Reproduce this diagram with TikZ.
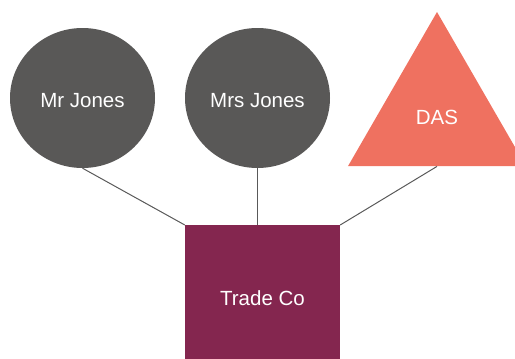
\documentclass[tikz,border=0pt]{standalone}
\usepackage{fontspec}
\setmainfont{Liberation Sans}
\usetikzlibrary{shapes.geometric}
\definecolor{person}{HTML}{595857}
\definecolor{dasred}{HTML}{EF7160}
\definecolor{tradeco}{HTML}{84264F}
\definecolor{linkgray}{HTML}{595959}
\tikzset{
  lbl/.style={text=white, font=\fontsize{20.5}{24}\selectfont},
  low/.style={text height=19pt, text depth=0pt},
  person/.style={ellipse, fill=person, minimum width=145pt, minimum height=140pt, inner sep=0pt, lbl, low},
  link/.style={draw=linkgray, line width=1pt}
}
\begin{document}
\begin{tikzpicture}[x=1pt,y=-1pt]
\useasboundingbox (0,0) rectangle (515,359);
\clip (0,0) rectangle (515,359);
\node[person] (mr) at (82.5,98) {Mr Jones};
\node[person] (mrs) at (257.5,98) {Mrs Jones};
\node[regular polygon, regular polygon sides=3, fill=dasred, minimum size=205.6pt, inner sep=0pt, lbl, low] (das) at (437,114.8) {DAS};
\node[rectangle, fill=tradeco, minimum width=155pt, minimum height=146pt, inner sep=0pt, lbl, anchor=north] (tc) at (262.5,225) {Trade Co};
\fill[tradeco] (tc.south west) rectangle ([yshift=-20pt]tc.south east);
\draw[link] (mr.south) -- (tc.north west);
\draw[link] (mrs.south) -- (mrs.south |- tc.north);
\draw[link] (das.south) -- (tc.north east);
\end{tikzpicture}
\end{document}
